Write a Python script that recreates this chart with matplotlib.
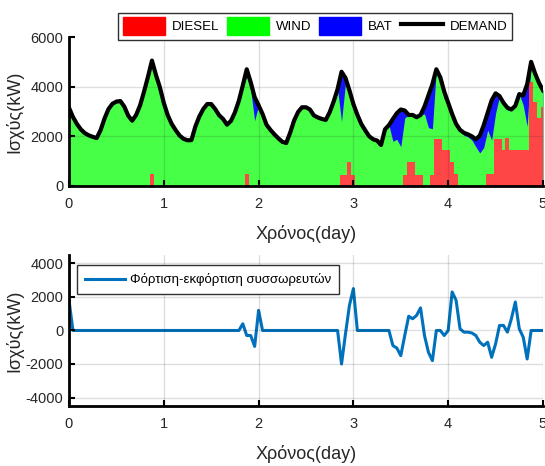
import matplotlib
matplotlib.use("Agg")
import matplotlib.pyplot as plt
import numpy as np
from matplotlib.patches import Patch
from matplotlib.lines import Line2D

plt.rcParams["font.family"] = ["Liberation Sans", "DejaVu Sans"]
plt.rcParams["axes.unicode_minus"] = False

# hourly samples over 5 days (121 points)
hours = np.arange(121)

demand = [
    3150, 2780, 2500, 2280, 2130, 2040, 1980, 1930, 2250, 2720, 3100, 3310,
    3400, 3420, 3200, 2830, 2630, 2860, 3250, 3800, 4400, 5050, 4480, 3980,
    3350, 2850, 2500, 2250, 2030, 1900, 1840, 1850, 2400, 2800, 3100, 3300,
    3300, 3100, 2850, 2700, 2470, 2620, 2960, 3430, 4050, 4700, 4180, 3580,
    3250, 2900, 2470, 2260, 2080, 1920, 1780, 1730, 2150, 2640, 2980, 3170,
    3170, 3080, 2840, 2760, 2700, 2660, 2970, 3400, 3900, 4600, 4350, 3850,
    3300, 2870, 2500, 2240, 2000, 1880, 1830, 1650, 2280, 2450, 2700, 2930,
    3080, 3040, 2860, 2860, 2770, 2860, 3200, 3650, 4100, 4700, 4380, 3800,
    3350, 2900, 2500, 2260, 2140, 2080, 2000, 1880, 2030, 2450, 2950, 3450,
    3730, 3620, 3350, 3150, 3080, 3230, 3700, 3650, 4100, 5000, 4530, 4150,
    3850,
]

diesel = [0] * 121
for h, v in {21: 500, 45: 500,
             69: 450, 70: 450, 71: 950, 72: 450,
             85: 450, 86: 950, 87: 950, 88: 450, 89: 450,
             92: 450, 93: 1900, 94: 1900, 95: 1450, 96: 1450, 97: 950, 98: 500,
             106: 500, 107: 500, 108: 1900, 109: 1900, 110: 1450, 111: 1950,
             112: 1450, 113: 1450, 114: 1450, 115: 1450, 116: 1450,
             117: 4200, 118: 3400, 119: 2750, 120: 3200}.items():
    diesel[h] = v

# battery power (negative = discharge)
battery = [0] * 121
for h, v in {0: 1800,
             44: 400, 45: -300, 46: -300, 47: -950, 48: 1200,
             69: -2000, 70: -200, 71: 1500, 72: 2500,
             82: -900, 83: -1050, 84: -1500, 85: -300, 86: 850, 87: 700,
             88: 900, 89: 1350, 90: -300, 91: -1300, 92: -1800, 95: -300,
             97: 2300, 98: 1800, 99: 100, 100: -100, 101: -100, 102: -150,
             103: -300, 104: -700, 105: -900, 106: -700, 107: -1600, 108: -800,
             109: 300, 110: 300, 111: -100, 112: 700, 113: 1700, 114: 100,
             115: -400, 116: -1700}.items():
    battery[h] = v

t = hours / 24.0
dem = np.array(demand, dtype=float)
bat = np.array(battery, dtype=float)
dis = np.array(diesel, dtype=float)
bat_out = np.clip(-bat, 0, None)
green_top = dem - bat_out

fig = plt.figure(figsize=(5.45, 4.66), dpi=100)
ax1 = fig.add_axes([0.1266, 0.6009, 0.8697, 0.3197])
ax2 = fig.add_axes([0.1266, 0.129, 0.8697, 0.3236])

RED = "#ff4646"
GREEN = "#46ff46"
BLUE = "#1414ff"
TXT = "#262626"

ax1.fill_between(t, 0, dem, color=BLUE, lw=0)
ax1.fill_between(t, 0, green_top, color=GREEN, lw=0)
ax1.fill_between(t, 0, dis, step="mid", color=RED, lw=0)
ax1.plot(t, dem, color="black", lw=3.0, zorder=4)
ax1.set_xlim(0, 5)
ax1.set_ylim(0, 6000)
ax1.set_yticks([0, 2000, 4000, 6000])

ax2.plot(t, bat, color="#0072BD", lw=2.2, label="Φόρτιση-εκφόρτιση συσσωρευτών")
ax2.set_xlim(0, 5)
ax2.set_ylim(-4500, 4500)
ax2.set_yticks([-4000, -2000, 0, 2000, 4000])

for ax in (ax1, ax2):
    ax.set_xticks([0, 1, 2, 3, 4, 5])
    ax.grid(True, color=TXT, alpha=0.15, lw=1.0)
    ax.set_axisbelow(False)
    for s in ("top", "right"):
        ax.spines[s].set_visible(False)
    for s in ("left", "bottom"):
        ax.spines[s].set_linewidth(2.0)
        ax.spines[s].set_zorder(5)
    ax.tick_params(direction="in", length=4, width=1.5, labelsize=10.5,
                   labelcolor=TXT)
    ax.tick_params(axis="x", pad=8)
    ax.tick_params(axis="y", pad=4)
    ax.set_xlabel("Χρόνος(day)", fontsize=13, color=TXT, labelpad=10)
    ax.set_ylabel("Ισχύς(kW)", fontsize=13, color=TXT)
    ax.yaxis.set_label_coords(-0.097, 0.5)

ax1.get_ygridlines()[-1].set_visible(False)

handles = [Patch(facecolor="#ff0000", edgecolor="#ff0000"),
           Patch(facecolor="#00ff00", edgecolor="#00ff00"),
           Patch(facecolor="#0000ff", edgecolor="#0000ff"),
           Line2D([], [], color="black", lw=3.0)]
leg = fig.legend(handles, ["DIESEL", "WIND", "BAT", "DEMAND"], ncol=4,
                 loc="center", bbox_to_anchor=(0.578, 0.944), fontsize=9.5,
                 fancybox=False, framealpha=1, edgecolor="#303030",
                 handlelength=3.2, handleheight=1.7, columnspacing=0.6,
                 handletextpad=0.5, borderpad=0.35)
leg.get_frame().set_linewidth(1.0)

leg2 = ax2.legend(loc="upper left", bbox_to_anchor=(0.004, 0.975), fontsize=9.5,
                  fancybox=False, framealpha=1, edgecolor="#303030",
                  handlelength=3.0, borderpad=0.6, handletextpad=0.4)
leg2.get_frame().set_linewidth(1.0)

fig.savefig("out.png", dpi=100)
